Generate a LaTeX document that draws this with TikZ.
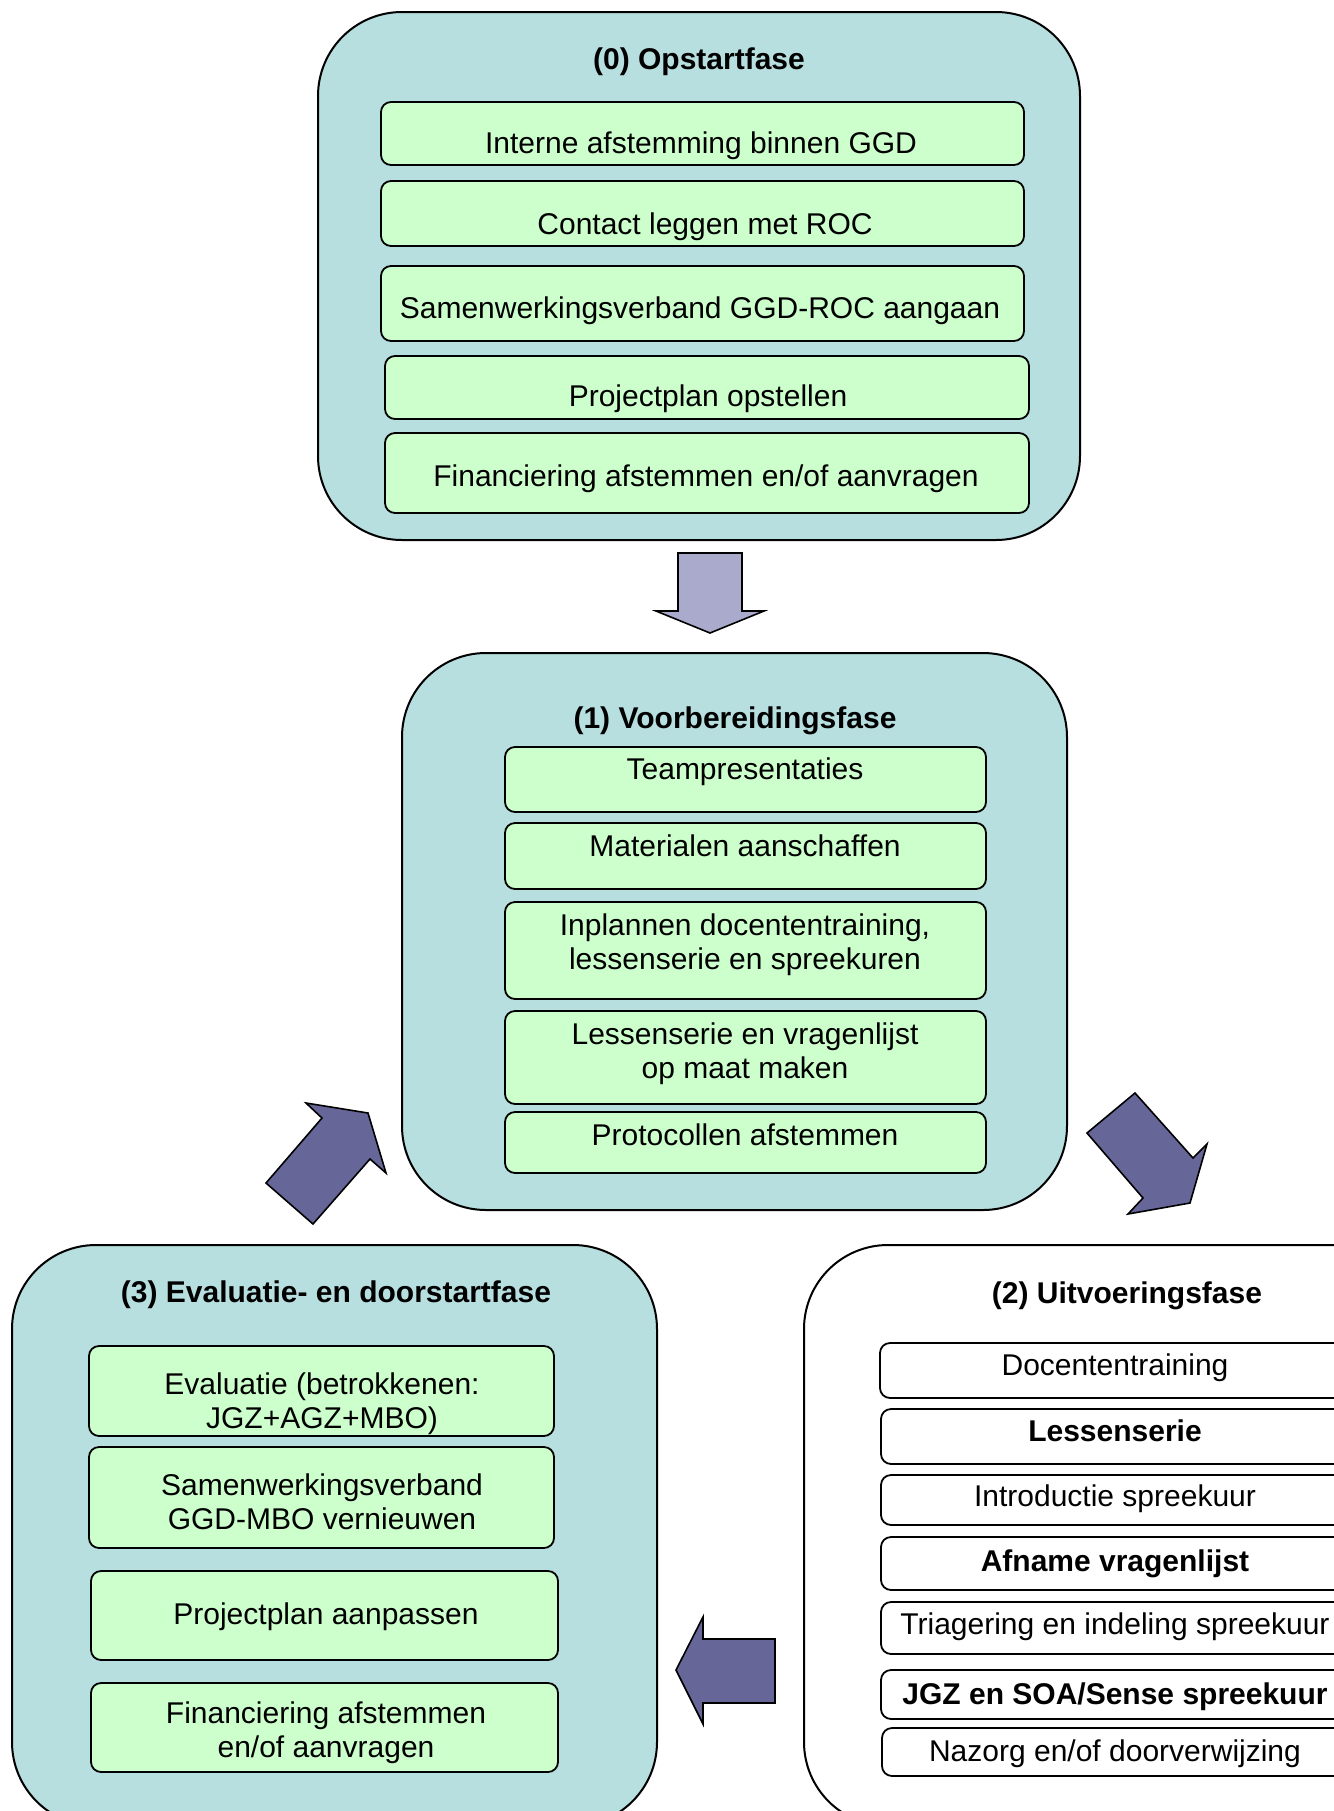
\documentclass[tikz,border=0pt]{standalone}
\usepackage{fontspec}
\setmainfont{Liberation Sans}
\usetikzlibrary{fit}
\definecolor{outerblue}{HTML}{B8DFE0}
\definecolor{innergreen}{HTML}{CCFFCC}
\definecolor{arrowdark}{HTML}{666699}
\definecolor{arrowlight}{HTML}{AAAACC}
\newcommand\st{\vrule width0pt height11pt depth3.5pt}
\tikzset{
 phase/.style={draw=black, line width=1pt, rounded corners=42pt, fill=outerblue, inner sep=0pt},
 phasewhite/.style={phase, fill=white},
 item/.style={draw=black, line width=0.9pt, rounded corners=5pt, fill=innergreen, inner sep=0pt},
 itemwhite/.style={item, fill=white},
 txt/.style={inner sep=0pt, align=center, yshift=-2pt, font=\fontsize{15}{17}\selectfont},
 ttl/.style={inner sep=0pt, align=center, yshift=-2pt, font=\fontsize{15}{17}\selectfont\bfseries},
 blockarrow/.style={draw=black, line width=0.8pt, fill=arrowdark, line join=miter},
 lightarrow/.style={blockarrow, fill=arrowlight},
}
\begin{document}
\begin{tikzpicture}[x=0.5pt, y=-0.5pt]
\useasboundingbox (0,0) rectangle (1334,1811);
\clip (0,0) rectangle (1334,1811);
\fill[white] (0,0) rectangle (1334,1811);

% ---------- (0) Opstartfase ----------
\node[phase, fit={(318,12) (1080,540)}] (p0) {};
\node[ttl] (t0) at (699,58) {\st(0) Opstartfase};
\node[item, fit={(381,102) (1024,165)}] (b01) {};
\node[txt] (x01) at (701,142) {\st Interne afstemming binnen GGD};
\node[item, fit={(381,181) (1024,246)}] (b02) {};
\node[txt] (x02) at (705,223) {\st Contact leggen met ROC};
\node[item, fit={(381,266) (1024,341)}] (b03) {};
\node[txt] (x03) at (700,307) {\st Samenwerkingsverband GGD-ROC aangaan};
\node[item, fit={(385,356) (1029,419)}] (b04) {};
\node[txt] (x04) at (708,395) {\st Projectplan opstellen};
\node[item, fit={(385,433) (1029,513)}] (b05) {};
\node[txt] (x05) at (706,475) {\st Financiering afstemmen en/of aanvragen};

% down arrow
\filldraw[lightarrow] (678,553) -- (742,553) -- (742,611) -- (764,611) -- (710,633) -- (656,611) -- (678,611) -- cycle;

% ---------- (1) Voorbereidingsfase ----------
\node[phase, fit={(402,653) (1067,1210)}] (p1) {};
\node[ttl] (t1) at (735,717) {\st(1) Voorbereidingsfase};
\node[item, fit={(505,747) (986,812)}] (b11) {};
\node[txt] (x11) at (745,768) {\st Teampresentaties};
\node[item, fit={(505,823) (986,889)}] (b12) {};
\node[txt] (x12) at (745,845) {\st Materialen aanschaffen};
\node[item, fit={(505,902) (986,999)}] (b13) {};
\node[txt] (x13) at (745,941) {\st Inplannen docententraining,\\\st lessenserie en spreekuren};
\node[item, fit={(505,1011) (986,1104)}] (b14) {};
\node[txt] (x14) at (745,1050) {\st Lessenserie en vragenlijst\\\st op maat maken};
\node[item, fit={(505,1112) (986,1173)}] (b15) {};
\node[txt] (x15) at (745,1134) {\st Protocollen afstemmen};

% up-right arrow
\filldraw[blockarrow] (313,1224) -- (266,1183) -- (322,1118) -- (306,1103) -- (368,1113) -- (386,1173) -- (370,1159) -- cycle;
% down-right arrow
\filldraw[blockarrow] (1135,1093) -- (1087,1133) -- (1143,1198) -- (1128,1214) -- (1190,1203) -- (1207,1144) -- (1193,1158) -- cycle;

% ---------- (3) Evaluatie- en doorstartfase ----------
\node[phase, fit={(12,1245) (657,1826)}] (p3) {};
\node[ttl] (t3) at (336,1291) {\st(3) Evaluatie- en doorstartfase};
\node[item, fit={(89,1346) (554,1436)}] (b31) {};
\node[txt] (x31) at (322,1400) {\st Evaluatie (betrokkenen:\\\st JGZ+AGZ+MBO)};
\node[item, fit={(89,1447) (554,1548)}] (b32) {};
\node[txt] (x32) at (322,1501) {\st Samenwerkingsverband\\\st GGD-MBO vernieuwen};
\node[item, fit={(91,1571) (558,1660)}] (b33) {};
\node[txt] (x33) at (326,1613) {\st Projectplan aanpassen};
\node[item, fit={(91,1683) (558,1772)}] (b34) {};
\node[txt] (x34) at (326,1729) {\st Financiering afstemmen\\\st en/of aanvragen};

% left arrow
\filldraw[blockarrow] (676,1670) -- (703,1617) -- (703,1639) -- (775,1639) -- (775,1703) -- (703,1703) -- (703,1724) -- cycle;

% ---------- (2) Uitvoeringsfase ----------
\node[phasewhite, fit={(804,1245) (1440,1826)}] (p2) {};
\node[ttl] (t2) at (1127,1292) {\st(2) Uitvoeringsfase};
\node[itemwhite, fit={(880,1343) (1350,1398)}] (b21) {};
\node[txt] (x21) at (1115,1364) {\st Docententraining};
\node[itemwhite, fit={(881,1409) (1350,1464)}] (b22) {};
\node[ttl] (x22) at (1115,1430) {\st Lessenserie};
\node[itemwhite, fit={(881,1475) (1350,1525)}] (b23) {};
\node[txt] (x23) at (1115,1495) {\st Introductie spreekuur};
\node[itemwhite, fit={(881,1537) (1350,1590)}] (b24) {};
\node[ttl] (x24) at (1115,1560) {\st Afname vragenlijst};
\node[itemwhite, fit={(881,1602) (1350,1654)}] (b25) {};
\node[txt] (x25) at (1115,1623) {\st Triagering en indeling spreekuur};
\node[itemwhite, fit={(881,1670) (1350,1719)}] (b26) {};
\node[ttl] (x26) at (1115,1693) {\st JGZ en SOA/Sense spreekuur};
\node[itemwhite, fit={(882,1728) (1350,1776)}] (b27) {};
\node[txt] (x27) at (1115,1750) {\st Nazorg en/of doorverwijzing};
\end{tikzpicture}
\end{document}
